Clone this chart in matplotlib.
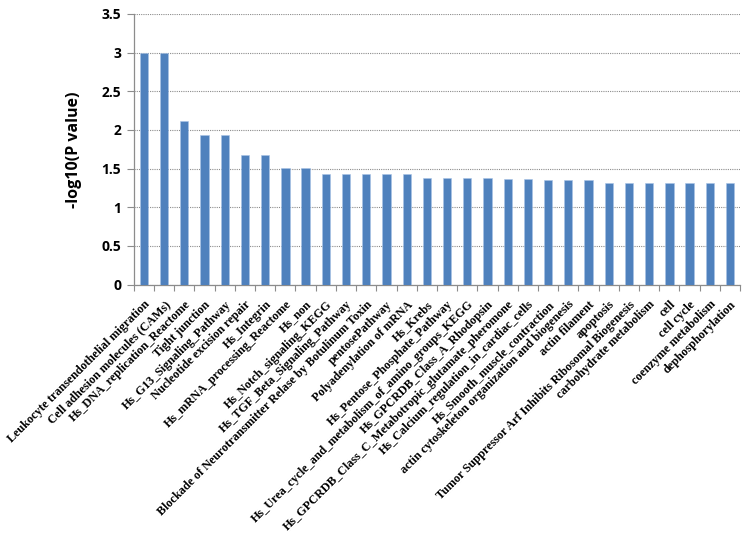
import matplotlib
matplotlib.use("Agg")
import matplotlib.pyplot as plt
import numpy as np

pathways = [
    "Leukocyte transendothelial migration",
    "Cell adhesion molecules (CAMs)",
    "Hs_DNA_replication_Reactome",
    "Tight junction",
    "Hs_G13_Signaling_Pathway",
    "Nucleotide excision repair",
    "Hs_Integrin",
    "Hs_mRNA_processing_Reactome",
    "Hs_non",
    "Hs_Notch_signaling_KEGG",
    "Hs_TGF_Beta_Signaling_Pathway",
    "Blockade of Neurotransmitter Relase by Botulinum Toxin",
    "pentosePathway",
    "Polyadenylation of mRNA",
    "Hs_Krebs",
    "Hs_Pentose_Phosphate_Pathway",
    "Hs_Urea_cycle_and_metabolism_of_amino_groups_KEGG",
    "Hs_GPCRDB_Class_A_Rhodopsin",
    "Hs_GPCRDB_Class_C_Metabotropic_glutamate_pheromone",
    "Hs_Calcium_regulation_in_cardiac_cells",
    "Hs_Smooth_muscle_contraction",
    "actin cytoskeleton organization and biogenesis",
    "actin filament",
    "apoptosis",
    "Tumor Suppressor Arf Inhibits Ribosomal Biogenesis",
    "carbohydrate metabolism",
    "cell",
    "cell cycle",
    "coenzyme metabolism",
    "dephosphorylation",
]

neg_log_p = [
    3.00, 3.00, 2.11, 1.93, 1.93, 1.67, 1.67, 1.51, 1.51, 1.43,
    1.43, 1.43, 1.43, 1.43, 1.38, 1.38, 1.38, 1.38, 1.36, 1.36,
    1.35, 1.35, 1.35, 1.31, 1.31, 1.31, 1.31, 1.31, 1.31, 1.31,
]

y_ticks = [0, 0.5, 1, 1.5, 2, 2.5, 3, 3.5]
y_tick_labels = ["0", "0.5", "1", "1.5", "2", "2.5", "3", "3.5"]

fig = plt.figure(figsize=(7.56, 5.34), dpi=100)
ax = fig.add_axes([0.177, 0.467, 0.802, 0.507])

x = np.arange(len(pathways))
ax.bar(x, neg_log_p, width=0.41, color="#4F81BD", edgecolor="#A9C4E6",
       linewidth=0.4, zorder=3)

ax.set_xlim(-0.5, len(pathways) - 0.5)
ax.set_ylim(0, 3.5)

ax.set_yticks(y_ticks)
ax.set_yticklabels(y_tick_labels, fontfamily="Open Sans", fontweight="bold",
                   fontsize=10)
ax.yaxis.grid(True, color="#8c8c8c", linestyle=(0, (1, 1)), linewidth=0.8,
              zorder=0)
ax.tick_params(axis="y", length=5, width=0.8, color="#8c8c8c", pad=4)

ax.set_xticks(x)
ax.set_xticklabels(pathways, rotation=45, ha="right", rotation_mode="anchor",
                   fontfamily="Liberation Serif", fontweight="bold", fontsize=8.7)
ax.tick_params(axis="x", which="major", length=0, pad=10)
ax.set_xticks(np.arange(-0.5, len(pathways) + 0.5, 1), minor=True)
ax.tick_params(axis="x", which="minor", length=4, width=0.8, color="#8c8c8c")

ax.set_ylabel("-log10(P value)", fontfamily="Open Sans", fontweight="bold",
              fontsize=11.5, labelpad=14)

for side in ("top", "right"):
    ax.spines[side].set_visible(False)
for side in ("left", "bottom"):
    ax.spines[side].set_color("#8c8c8c")
    ax.spines[side].set_linewidth(0.9)

fig.savefig("out.png", dpi=100, facecolor="white")
